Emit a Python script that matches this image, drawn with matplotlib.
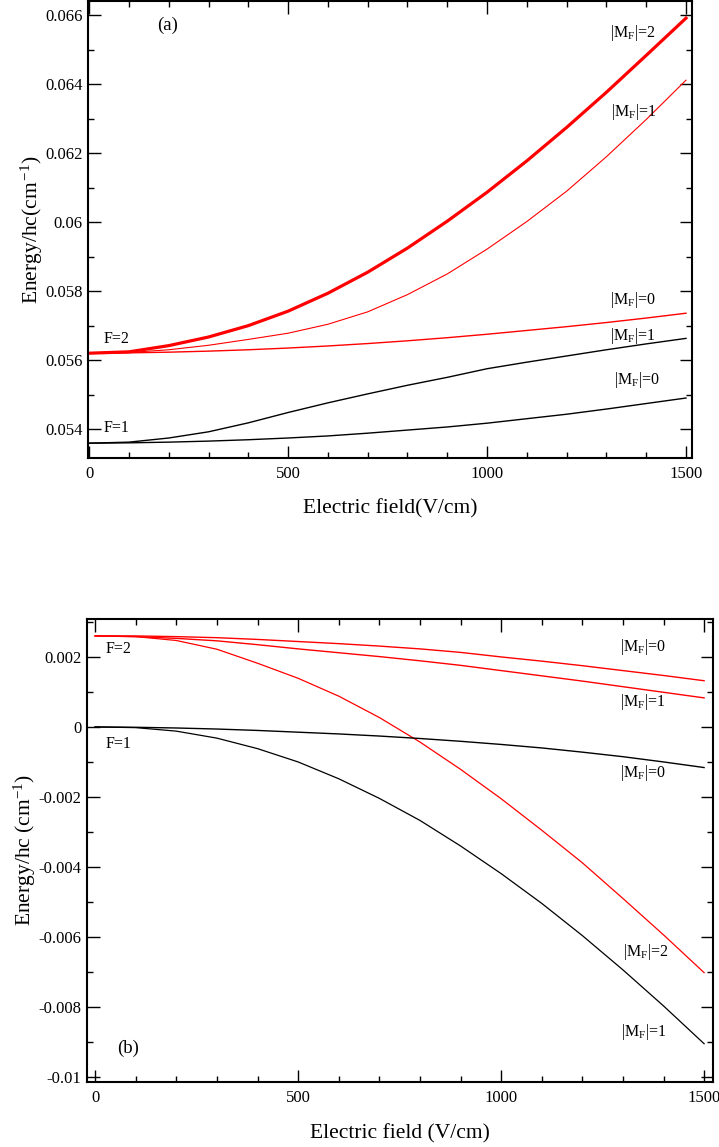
import matplotlib
matplotlib.use("Agg")
import matplotlib.pyplot as plt
from matplotlib.ticker import MultipleLocator, FuncFormatter

plt.rcParams["font.family"] = ["Liberation Serif", "DejaVu Serif"]
plt.rcParams["mathtext.fontset"] = "custom"
plt.rcParams["mathtext.rm"] = "Liberation Serif"
plt.rcParams["mathtext.it"] = "Liberation Serif:italic"
plt.rcParams["axes.unicode_minus"] = False

field = [0, 100, 200, 300, 400, 500, 600, 700, 800, 900,
         1000, 1100, 1200, 1300, 1400, 1500]

# panel (a)
a_f2_m2 = [0.05620, 0.05624, 0.05642, 0.05667, 0.05700, 0.05742, 0.05794, 0.05855,
           0.05925, 0.06003, 0.06087, 0.06178, 0.06275, 0.06377, 0.06484, 0.06592]
a_f2_m1 = [0.05620, 0.05622, 0.05630, 0.05643, 0.05660, 0.05678, 0.05704, 0.05740,
           0.05790, 0.05850, 0.05922, 0.06002, 0.06090, 0.06190, 0.06298, 0.06412]
a_f2_m0 = [0.05620, 0.05621, 0.05623, 0.05626, 0.05630, 0.05635, 0.05641, 0.05648,
           0.05656, 0.05665, 0.05675, 0.05686, 0.05697, 0.05709, 0.05722, 0.05736]
a_f1_m1 = [0.05359, 0.05362, 0.05374, 0.05392, 0.05418, 0.05448, 0.05476, 0.05502,
           0.05527, 0.05550, 0.05575, 0.05594, 0.05612, 0.05630, 0.05647, 0.05663]
a_f1_m0 = [0.05359, 0.05360, 0.05362, 0.05365, 0.05369, 0.05374, 0.05380, 0.05388,
           0.05397, 0.05406, 0.05417, 0.05430, 0.05443, 0.05458, 0.05474, 0.05490]

# panel (b)
b_f2_m0 = [0.00260, 0.00260, 0.00258, 0.00255, 0.00250, 0.00244, 0.00238, 0.00231,
           0.00223, 0.00213, 0.00200, 0.00188, 0.00175, 0.00161, 0.00147, 0.00132]
b_f2_m1 = [0.00260, 0.00258, 0.00253, 0.00246, 0.00235, 0.00223, 0.00212, 0.00201,
           0.00189, 0.00176, 0.00161, 0.00146, 0.00131, 0.00115, 0.00099, 0.00083]
b_f2_m2 = [0.00260, 0.00258, 0.00247, 0.00222, 0.00182, 0.00139, 0.00088, 0.00027,
           -0.00043, -0.00121, -0.00205, -0.00295, -0.00388, -0.00490, -0.00594, -0.00702]
b_f1_m0 = [0.0, -0.00001, -0.00003, -0.00006, -0.00010, -0.00015, -0.00020, -0.00026,
           -0.00033, -0.00041, -0.00050, -0.00060, -0.00072, -0.00085, -0.00100, -0.00116]
b_f1_m1 = [0.0, -0.00002, -0.00012, -0.00032, -0.00062, -0.00100, -0.00148, -0.00204,
           -0.00267, -0.00340, -0.00419, -0.00504, -0.00596, -0.00694, -0.00797, -0.00905]

fig = plt.figure(figsize=(7.19, 11.47), dpi=100)
ax1 = fig.add_axes([0.1224, 0.6007, 0.840, 0.3985])
ax2 = fig.add_axes([0.1210, 0.0567, 0.8707, 0.4037])

fmt = FuncFormatter(lambda v, p: "0" if abs(v) < 1e-12 else "{:g}".format(round(v, 6)))

for ax in (ax1, ax2):
    ax.tick_params(which="both", direction="in", top=True, right=True, labelsize=12)
    ax.tick_params(which="major", length=9, width=1.0)
    ax.tick_params(which="minor", length=4.5, width=1.0)
    ax.tick_params(axis="x", pad=6)
    ax.tick_params(axis="y", pad=4)
    for s in ax.spines.values():
        s.set_linewidth(1.5)
    ax.xaxis.set_major_locator(MultipleLocator(500))
    ax.xaxis.set_minor_locator(MultipleLocator(100))
    ax.yaxis.set_major_formatter(fmt)

# (a)
ax1.plot(field, a_f2_m2, color="red", lw=2.3)
ax1.plot(field, a_f2_m1, color="red", lw=0.8)
ax1.plot(field, a_f2_m0, color="red", lw=1.0)
ax1.plot(field, a_f1_m1, color="black", lw=1.0)
ax1.plot(field, a_f1_m0, color="black", lw=1.0)
ax1.set_xlim(-3, 1515)
ax1.set_ylim(0.05316, 0.06642)
ax1.yaxis.set_major_locator(MultipleLocator(0.002))
ax1.yaxis.set_minor_locator(MultipleLocator(0.001))
ax1.set_xlabel("Electric field(V/cm)", fontsize=15.5, labelpad=12)
ax1.set_ylabel(r"Energy/hc(cm$^{\,\mathrm{-1}}$)", fontsize=15.5)
ax1.yaxis.set_label_coords(-0.072, 0.5)

lab = 11.5
ax1.text(196, 0.06571, "(a)", fontsize=13.5, ha="center", va="center")
ax1.text(35, 0.05661, "F=2", fontsize=lab, va="center")
ax1.text(35, 0.05404, "F=1", fontsize=lab, va="center")
ax1.text(1309, 0.06548, r"|M$_{\mathrm{F}}$|=2", fontsize=lab, va="center")
ax1.text(1311, 0.06319, r"|M$_{\mathrm{F}}$|=1", fontsize=lab, va="center")
ax1.text(1309, 0.05774, r"|M$_{\mathrm{F}}$|=0", fontsize=lab, va="center")
ax1.text(1309, 0.05670, r"|M$_{\mathrm{F}}$|=1", fontsize=lab, va="center")
ax1.text(1319, 0.05542, r"|M$_{\mathrm{F}}$|=0", fontsize=lab, va="center")

# (b)
ax2.plot(field, b_f2_m0, color="red", lw=1.0)
ax2.plot(field, b_f2_m1, color="red", lw=1.0)
ax2.plot(field, b_f2_m2, color="red", lw=0.9)
ax2.plot(field, b_f1_m0, color="black", lw=1.0)
ax2.plot(field, b_f1_m1, color="black", lw=0.9)
ax2.set_xlim(-20, 1522)
ax2.set_ylim(-0.010143, 0.003086)
ax2.yaxis.set_major_locator(MultipleLocator(0.002))
ax2.yaxis.set_minor_locator(MultipleLocator(0.001))
ax2.set_xlabel("Electric field (V/cm)", fontsize=15.5, labelpad=13)
ax2.set_ylabel(r"Energy/hc (cm$^{\mathrm{-1}}$)", fontsize=15.5)
ax2.yaxis.set_label_coords(-0.079, 0.5)

ax2.text(81, -0.00917, "(b)", fontsize=13.5, ha="center", va="center")
ax2.text(27, 0.00223, "F=2", fontsize=lab, va="center")
ax2.text(27, -0.00049, "F=1", fontsize=lab, va="center")
ax2.text(1293, 0.00229, r"|M$_{\mathrm{F}}$|=0", fontsize=lab, va="center")
ax2.text(1293, 0.00071, r"|M$_{\mathrm{F}}$|=1", fontsize=lab, va="center")
ax2.text(1293, -0.00131, r"|M$_{\mathrm{F}}$|=0", fontsize=lab, va="center")
ax2.text(1300, -0.00643, r"|M$_{\mathrm{F}}$|=2", fontsize=lab, va="center")
ax2.text(1295, -0.00871, r"|M$_{\mathrm{F}}$|=1", fontsize=lab, va="center")

fig.savefig("out.png", dpi=100)
